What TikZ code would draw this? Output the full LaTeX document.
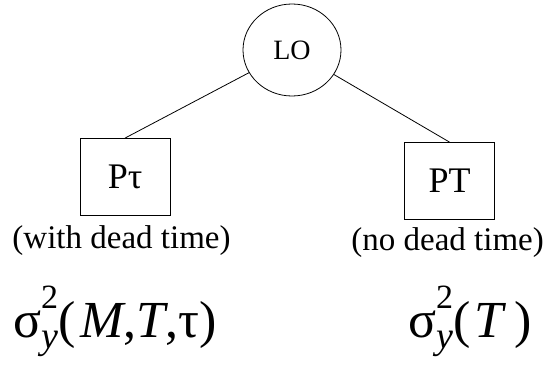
\documentclass[tikz,border=0pt]{standalone}
\usepackage{fontspec}
\setmainfont{Liberation Serif}
\usetikzlibrary{positioning,shapes.geometric}

% sigma with superscript 2 and subscript y, set apart as in print
\newcommand{\sigsq}{σ\rlap{\raisebox{29pt}{\fontsize{34}{36}\selectfont 2}}\raisebox{-11pt}{\fontsize{38}{40}\selectfont\itshape y}}

\begin{document}
\begin{tikzpicture}[x=1pt, y=-1pt,
  osc/.style={draw, ellipse, thick, minimum width=98pt, minimum height=92pt, inner sep=0pt, font=\fontsize{28}{30}\selectfont},
  meas/.style={draw, thick, minimum width=90pt, minimum height=77pt, inner sep=0pt, font=\fontsize{36}{40}\selectfont},
  note/.style={inner sep=0pt, font=\fontsize{33}{36}\selectfont},
  var/.style={inner sep=0pt, font=\fontsize{52}{56}\selectfont}]
\useasboundingbox (0,0) rectangle (553,369);
\node[osc] (lo) at (292,50) {LO};
\node[meas] (ptau) at (125,177) {Pτ};
\node[meas] (pt) at (449.5,181) {PT};
\node[note, anchor=base] (withdt) at (121.5,248) {(with dead time)};
\node[note, anchor=base east] (nodt) at (544,250) {(no dead time)};
\node[var, anchor=base west] (varm) at (13,337) {\sigsq(\hspace{5pt}\textit{M},\textit{T},τ)};
\node[var, anchor=base west] (vart) at (408,337) {\sigsq(\hspace{4pt}\textit{T}\hspace{8pt})};
\draw[thick] (lo) -- (ptau.north);
\draw[thick] (lo) -- (pt.north);
\end{tikzpicture}
\end{document}
